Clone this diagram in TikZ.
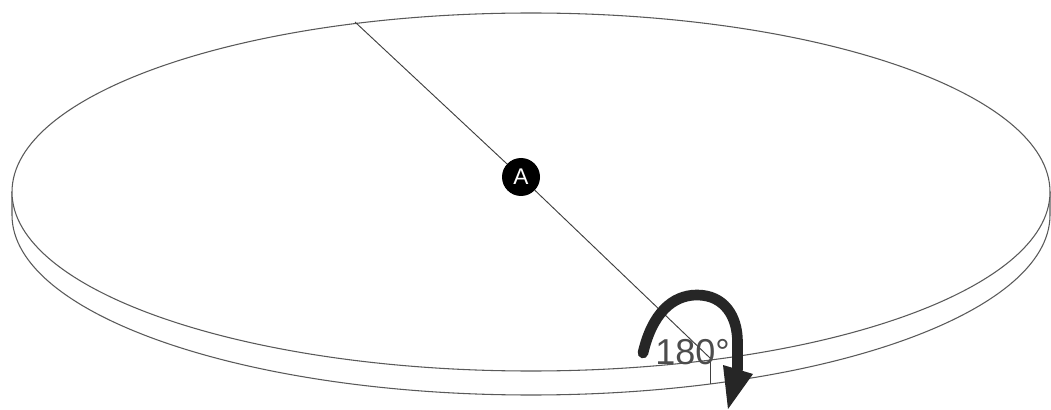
\documentclass[tikz,border=0pt]{standalone}
\usepackage{fontspec}
\setmainfont{Liberation Sans}
\tikzset{
  disc/.style={draw=black!65,line width=0.8pt},
  thin line/.style={draw=black!75,line width=0.7pt},
  marker/.style={circle,fill=black,inner sep=0pt,minimum size=28.5pt,text=white,font=\fontsize{17}{17}\selectfont},
  turn/.style={draw=black!85,line width=8pt,line cap=round},
  turnhead/.style={fill=black!85},
  anglelabel/.style={text=black!70,inner sep=0pt,font=\fontsize{27}{27}\selectfont}
}
\begin{document}
\begin{tikzpicture}[x=0.75pt,y=-0.75pt]
\useasboundingbox (0,0) rectangle (1051,410);
% lower rim (only visible front part)
\draw[disc] (12,192) -- (12,215) arc[start angle=180,end angle=0,x radius=519,y radius=180] -- (1050,192);
% top face
\draw[disc,fill=white] (531,192) ellipse[x radius=519,y radius=179];
\coordinate (rimtop) at (355,22);
\coordinate (corner) at (710,358);
\coordinate (foot) at (710,384);
\node[marker] (A) at (521,177) {A};
\draw[thin line] (rimtop) -- (A);
\draw[thin line] (A) -- (corner);
\draw[thin line] (corner) -- (foot);
\node[anglelabel,anchor=base west] (deg) at (655,364) {180°};
\coordinate (s) at (643,353);
\coordinate (e) at (737.5,370);
\draw[turn] (s) .. controls (652,314) and (672,295) .. (697,295)
  .. controls (724,295) and (737.5,316) .. (737.5,342) -- (e);
\fill[turnhead] (723,365) -- (753,374) -- (728,409) -- cycle;
\end{tikzpicture}
\end{document}
